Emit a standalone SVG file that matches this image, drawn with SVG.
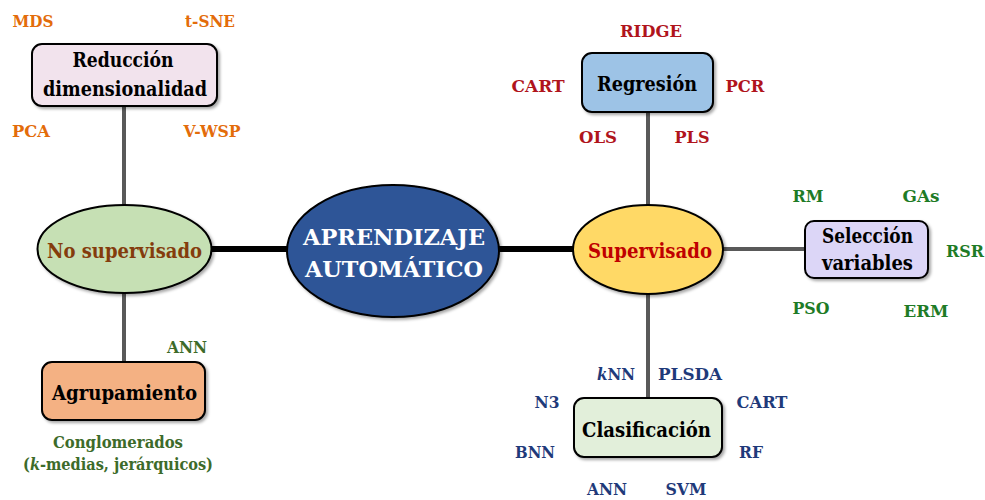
<svg xmlns="http://www.w3.org/2000/svg" width="985" height="500" viewBox="0 0 985 500" font-weight="bold">
<defs>
<filter id="sh" x="-20%" y="-20%" width="140%" height="140%">
<feDropShadow dx="2" dy="2" stdDeviation="1.5" flood-color="#000" flood-opacity="0.35"/>
</filter>
</defs>
<style>
text{text-anchor:middle;font-family:'DejaVu Serif Condensed','DejaVu Serif',serif;font-stretch:condensed}
.node{font-size:20px;fill:#000}
.lbl{font-size:16.5px}
.box{stroke:#000;stroke-width:2;filter:url(#sh)}
.ell{stroke:#000;stroke-width:2;filter:url(#sh)}
.thin{stroke:#595959;stroke-width:4;fill:none}
.thick{stroke:#000;stroke-width:6;fill:none}
.or{fill:#e36c0a}
.rd{fill:#b0141c}
.gr{fill:#1e7b26}
.bl{fill:#1f3a7a}
.ol{fill:#3d6b2a}
</style>
<g id="connectors">
<line class="thin" x1="124" y1="107" x2="124" y2="205"/>
<line class="thin" x1="124" y1="293" x2="124" y2="362"/>
<line class="thick" x1="211" y1="249" x2="288" y2="249"/>
<line class="thick" x1="499" y1="249" x2="574" y2="249"/>
<line class="thin" x1="648" y1="112" x2="648" y2="205"/>
<line class="thin" x1="648" y1="294" x2="648" y2="398"/>
<line class="thin" x1="723" y1="249" x2="805" y2="249"/>
</g>
<g id="aprendizaje">
<ellipse class="ell" cx="393" cy="251" rx="106" ry="66" fill="#2f5597"/>
<text x="394" y="245" font-size="23" fill="#fff" textLength="182" lengthAdjust="spacingAndGlyphs">APRENDIZAJE</text>
<text x="394" y="277" font-size="23" fill="#fff" textLength="178" lengthAdjust="spacingAndGlyphs">AUTOMÁTICO</text>
</g>
<g id="no-supervisado">
<ellipse class="ell" cx="124.5" cy="249" rx="87" ry="44" fill="#c6e0b4"/>
<text class="node" x="124.5" y="258" style="fill:#843c0c" textLength="155" lengthAdjust="spacingAndGlyphs">No supervisado</text>
</g>
<g id="supervisado">
<ellipse class="ell" cx="648" cy="249.5" rx="75" ry="44.5" fill="#ffd966"/>
<text class="node" x="650" y="258" style="fill:#c00000" textLength="124" lengthAdjust="spacingAndGlyphs">Supervisado</text>
</g>
<g id="reduccion">
<rect class="box" x="32" y="44" width="185" height="62" rx="10" fill="#f2e3ed"/>
<text class="node" x="123" y="67" textLength="101" lengthAdjust="spacingAndGlyphs">Reducción</text>
<text class="node" x="125" y="96" textLength="164" lengthAdjust="spacingAndGlyphs">dimensionalidad</text>
<text class="lbl or" x="33" y="27" textLength="41" lengthAdjust="spacingAndGlyphs">MDS</text>
<text class="lbl or" x="210" y="27" textLength="50" lengthAdjust="spacingAndGlyphs">t-SNE</text>
<text class="lbl or" x="31" y="137" textLength="38" lengthAdjust="spacingAndGlyphs">PCA</text>
<text class="lbl or" x="212" y="137" textLength="57" lengthAdjust="spacingAndGlyphs">V-WSP</text>
</g>
<g id="agrupamiento">
<rect class="box" x="42" y="362" width="163" height="58" rx="10" fill="#f4b183"/>
<text class="node" x="124.5" y="400" textLength="145" lengthAdjust="spacingAndGlyphs">Agrupamiento</text>
<text class="lbl ol" x="187" y="353" textLength="40" lengthAdjust="spacingAndGlyphs">ANN</text>
<text class="lbl ol" x="118" y="448" textLength="130" lengthAdjust="spacingAndGlyphs">Conglomerados</text>
<text class="lbl ol" x="118" y="470" textLength="190" lengthAdjust="spacingAndGlyphs">(<tspan font-style="italic">k</tspan>-medias, jerárquicos)</text>
</g>
<g id="regresion">
<rect class="box" x="582" y="53" width="131" height="59" rx="10" fill="#9dc3e6"/>
<text class="node" x="647" y="91" textLength="100" lengthAdjust="spacingAndGlyphs">Regresión</text>
<text class="lbl rd" x="651" y="37" textLength="62" lengthAdjust="spacingAndGlyphs">RIDGE</text>
<text class="lbl rd" x="538" y="92" textLength="53" lengthAdjust="spacingAndGlyphs">CART</text>
<text class="lbl rd" x="745" y="92" textLength="39" lengthAdjust="spacingAndGlyphs">PCR</text>
<text class="lbl rd" x="598" y="143" textLength="38" lengthAdjust="spacingAndGlyphs">OLS</text>
<text class="lbl rd" x="692" y="143" textLength="35" lengthAdjust="spacingAndGlyphs">PLS</text>
</g>
<g id="seleccion">
<rect class="box" x="805" y="221" width="123" height="57" rx="9" fill="#dcd6f7"/>
<text class="node" x="867.5" y="243" textLength="91" lengthAdjust="spacingAndGlyphs">Selección</text>
<text class="node" x="867.5" y="270" textLength="91" lengthAdjust="spacingAndGlyphs">variables</text>
<text class="lbl gr" x="808" y="202" textLength="31" lengthAdjust="spacingAndGlyphs">RM</text>
<text class="lbl gr" x="921" y="202" textLength="37" lengthAdjust="spacingAndGlyphs">GAs</text>
<text class="lbl gr" x="965" y="257" textLength="38" lengthAdjust="spacingAndGlyphs">RSR</text>
<text class="lbl gr" x="811" y="314" textLength="37" lengthAdjust="spacingAndGlyphs">PSO</text>
<text class="lbl gr" x="926" y="317" textLength="45" lengthAdjust="spacingAndGlyphs">ERM</text>
</g>
<g id="clasificacion">
<rect class="box" x="574" y="398" width="148" height="59" rx="10" fill="#e2efda"/>
<text class="node" x="646.5" y="437" textLength="129" lengthAdjust="spacingAndGlyphs">Clasificación</text>
<text class="lbl bl" x="616" y="380" textLength="38" lengthAdjust="spacingAndGlyphs"><tspan font-style="italic">k</tspan>NN</text>
<text class="lbl bl" x="690" y="380" textLength="64" lengthAdjust="spacingAndGlyphs">PLSDA</text>
<text class="lbl bl" x="547" y="408" textLength="25" lengthAdjust="spacingAndGlyphs">N3</text>
<text class="lbl bl" x="762" y="408" textLength="51" lengthAdjust="spacingAndGlyphs">CART</text>
<text class="lbl bl" x="535" y="458" textLength="40" lengthAdjust="spacingAndGlyphs">BNN</text>
<text class="lbl bl" x="751" y="458" textLength="24" lengthAdjust="spacingAndGlyphs">RF</text>
<text class="lbl bl" x="607" y="495" textLength="40" lengthAdjust="spacingAndGlyphs">ANN</text>
<text class="lbl bl" x="686" y="495" textLength="41" lengthAdjust="spacingAndGlyphs">SVM</text>
</g>
</svg>
